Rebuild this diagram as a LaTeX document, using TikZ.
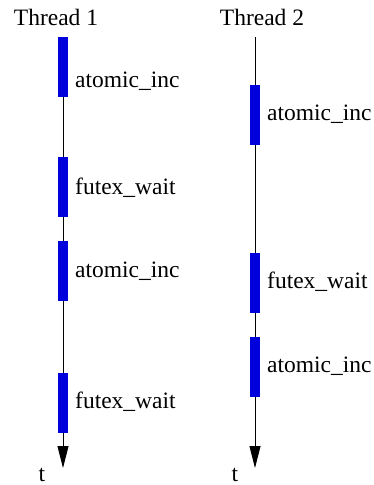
\documentclass[tikz,border=0pt]{standalone}
\usepackage{fontspec}
\setmainfont{Liberation Serif}
\usetikzlibrary{arrows.meta}
\definecolor{barblue}{RGB}{0,0,220}
\begin{document}
\begin{tikzpicture}[x=1pt,y=-1pt,
  bar/.style={draw=none,fill=barblue,minimum width=10pt,minimum height=60pt,inner sep=0pt,outer sep=0pt},
  lbl/.style={anchor=base west,inner sep=0pt,font=\fontsize{23.5}{28}\selectfont},
  title/.style={anchor=base,inner sep=0pt,font=\fontsize{23.5}{28}\selectfont},
  tline/.style={draw=black,line width=0.9pt},
  tarrow/.style={tline,-{Triangle[length=22pt,width=11pt]}}]
\useasboundingbox (0,0) rectangle (374,485);
% titles
\node[title] (th1) at (56,25) {Thread 1};
\node[title] (th2) at (262,25) {Thread 2};
% thread 1 bars
\node[bar] (a1) at (63,67) {};
\node[bar] (f1) at (63,186.5) {};
\node[bar] (a2) at (63,271) {};
\node[bar] (f2) at (63,402.5) {};
% thread 2 bars
\node[bar] (b1) at (255,115) {};
\node[bar] (g1) at (255,282.5) {};
\node[bar] (b2) at (255,367) {};
\coordinate (top2) at (255,37);
\coordinate (end1) at (63,468);
\coordinate (end2) at (255,468);
% connectors
\draw[tline] (a1.south) -- (f1.north);
\draw[tline] (f1.south) -- (a2.north);
\draw[tline] (a2.south) -- (f2.north);
\draw[tarrow] (f2.south) -- (end1);
\draw[tline] (top2) -- (b1.north);
\draw[tline] (b1.south) -- (g1.north);
\draw[tline] (g1.south) -- (b2.north);
\draw[tarrow] (b2.south) -- (end2);
% labels
\node[lbl] (la1) at (75,87) {atomic\_inc};
\node[lbl] (lf1) at (75,194) {futex\_wait};
\node[lbl] (la2) at (75,277) {atomic\_inc};
\node[lbl] (lf2) at (75,408) {futex\_wait};
\node[lbl] (lb1) at (267,120) {atomic\_inc};
\node[lbl] (lg1) at (267,288) {futex\_wait};
\node[lbl] (lb2) at (267,372) {atomic\_inc};
% t labels
\node[title] (t1) at (42,481) {t};
\node[title] (t2) at (235,481) {t};
\end{tikzpicture}
\end{document}
